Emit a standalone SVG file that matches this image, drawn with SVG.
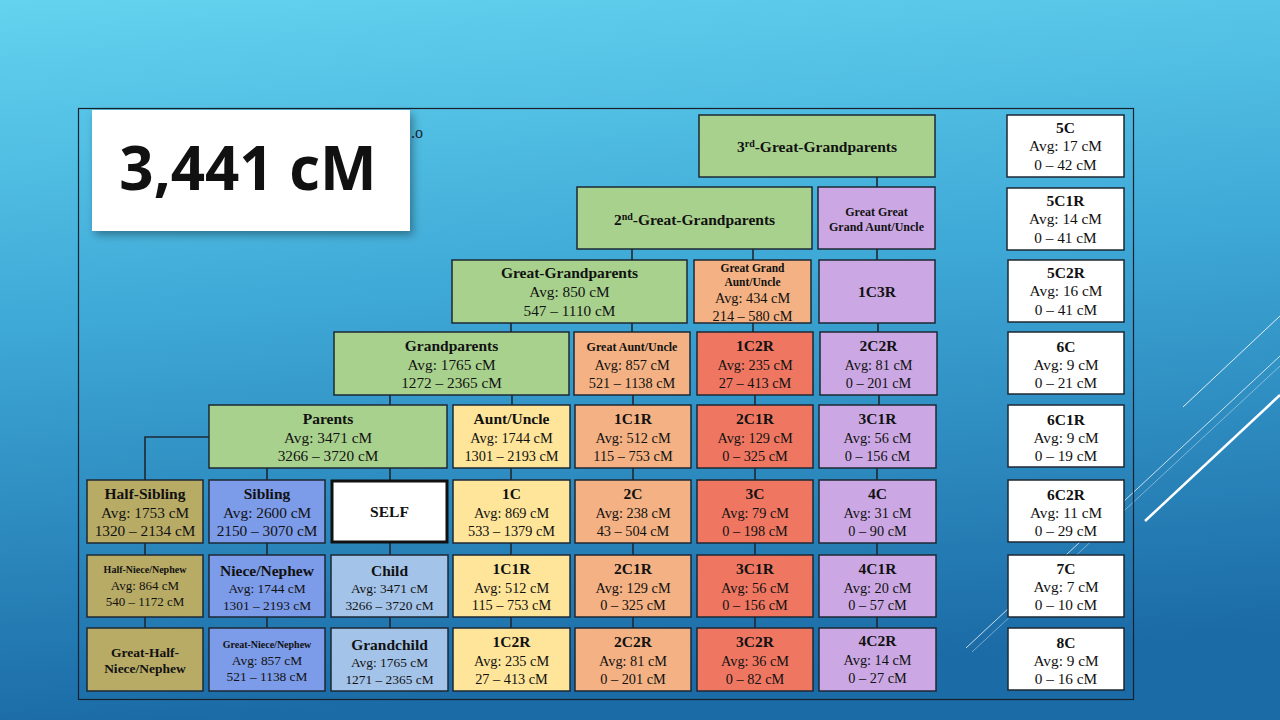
<svg xmlns="http://www.w3.org/2000/svg" width="1280" height="720" viewBox="0 0 1280 720">
<defs>
<linearGradient id="bg" x1="0" y1="0" x2="0.15" y2="1">
<stop offset="0" stop-color="#63d3ef"/>
<stop offset="0.45" stop-color="#3ea8d6"/>
<stop offset="1" stop-color="#1b6ba6"/>
</linearGradient>
<filter id="sh" x="-10%" y="-10%" width="130%" height="140%">
<feDropShadow dx="3" dy="4" stdDeviation="4" flood-color="#000" flood-opacity="0.35"/>
</filter>
<style>
.bx{stroke:#1d2834;stroke-width:1.5}
.g{fill:#a9d18e}.p{fill:#f4b183}.r{fill:#ef7762}.v{fill:#cba8e3}.y{fill:#ffe599}.bl{fill:#7c9be8}.lb{fill:#a3c3e9}.o{fill:#b8ab66}.w{fill:#ffffff}
text{font-family:"Liberation Serif","Times New Roman",serif;text-anchor:middle;fill:#111}
.b{font-weight:bold;font-size:15.5px}
.n{font-size:15.3px}
.s{font-size:14.3px}
.xs{font-size:13.4px}
.cn line,.cn path{stroke:#1d2834;stroke-width:1.6;fill:none}
.deco line{stroke:#ffffff}
</style>
</defs>
<rect width="1280" height="720" fill="url(#bg)"/>
<g class="deco">
<line x1="966" y1="648" x2="1280" y2="356" stroke-width="1" stroke-opacity="0.75"/>
<line x1="972" y1="652" x2="1280" y2="366" stroke-width="0.8" stroke-opacity="0.5"/>
<line x1="1145" y1="521" x2="1280" y2="395" stroke-width="2.5"/>
<line x1="1183" y1="407" x2="1280" y2="316" stroke-width="1" stroke-opacity="0.85"/>
</g>
<rect x="78.5" y="108.5" width="1055" height="591" fill="none" stroke="#17202b" stroke-width="1.2"/>
<text x="411" y="138" style="font-size:16px;text-anchor:start;fill:#1a2530">.o</text>

<g class="cn" id="connectors">
<line x1="877" y1="177" x2="877" y2="188"/>
<line x1="632" y1="249" x2="632" y2="260"/>
<line x1="753" y1="249" x2="753" y2="260"/>
<line x1="877" y1="249" x2="877" y2="260"/>
<line x1="511" y1="323" x2="511" y2="332"/>
<line x1="632" y1="323" x2="632" y2="332"/>
<line x1="753" y1="323" x2="753" y2="332"/>
<line x1="878" y1="323" x2="878" y2="332"/>
<line x1="390" y1="395" x2="390" y2="405"/>
<line x1="512" y1="395" x2="512" y2="405"/>
<line x1="633" y1="395" x2="633" y2="405"/>
<line x1="755" y1="395" x2="755" y2="405"/>
<line x1="879" y1="395" x2="879" y2="405"/>
<line x1="267" y1="468" x2="267" y2="480"/>
<line x1="390" y1="468" x2="390" y2="480"/>
<line x1="511" y1="468" x2="511" y2="480"/>
<line x1="633" y1="468" x2="633" y2="480"/>
<line x1="755" y1="468" x2="755" y2="480"/>
<line x1="877" y1="468" x2="877" y2="480"/>
<path d="M209 437 H145 V480"/>
<line x1="145" y1="543" x2="145" y2="555"/>
<line x1="267" y1="543" x2="267" y2="555"/>
<line x1="390" y1="543" x2="390" y2="555"/>
<line x1="511" y1="543" x2="511" y2="555"/>
<line x1="633" y1="543" x2="633" y2="555"/>
<line x1="755" y1="543" x2="755" y2="555"/>
<line x1="877" y1="543" x2="877" y2="555"/>
<line x1="145" y1="617" x2="145" y2="628"/>
<line x1="267" y1="617" x2="267" y2="628"/>
<line x1="390" y1="617" x2="390" y2="628"/>
<line x1="511" y1="617" x2="511" y2="628"/>
<line x1="633" y1="617" x2="633" y2="628"/>
<line x1="755" y1="617" x2="755" y2="628"/>
<line x1="877" y1="617" x2="877" y2="628"/>
</g>

<g id="gg3"><rect class="bx g" x="699" y="115" width="236" height="62"/><text class="b" x="817" y="152">3<tspan style="font-size:10px" dy="-5">rd</tspan><tspan dy="5">-Great-Grandparents</tspan></text></g>

<g id="gg2"><rect class="bx g" x="577" y="187" width="235" height="62"/><text class="b" x="694.5" y="225">2<tspan style="font-size:10px" dy="-5">nd</tspan><tspan dy="5">-Great-Grandparents</tspan></text></g>
<g id="ggga"><rect class="bx v" x="818" y="187" width="117" height="62"/><text style="font-weight:bold;font-size:12px" x="876.5" y="216">Great Great</text><text style="font-weight:bold;font-size:12px" x="876.5" y="231">Grand Aunt/Uncle</text></g>

<g id="gg"><rect class="bx g" x="452" y="260" width="235" height="63"/><text class="b" x="569.5" y="278">Great-Grandparents</text><text class="n" x="569.5" y="297">Avg: 850 cM</text><text class="n" x="569.5" y="316">547 – 1110 cM</text></g>
<g id="gga"><rect class="bx p" x="694" y="260" width="117" height="63"/><text style="font-weight:bold;font-size:11.5px" x="752.5" y="272">Great Grand</text><text style="font-weight:bold;font-size:11.5px" x="752.5" y="286">Aunt/Uncle</text><text class="s" x="752.5" y="303">Avg: 434 cM</text><text class="s" x="752.5" y="321">214 – 580 cM</text></g>
<g id="c1r3"><rect class="bx v" x="819" y="260" width="116" height="63"/><text class="b" x="877" y="297">1C3R</text></g>

<g id="gp"><rect class="bx g" x="334" y="332" width="235" height="63"/><text class="b" x="451.5" y="351">Grandparents</text><text class="n" x="451.5" y="370">Avg: 1765 cM</text><text class="n" x="451.5" y="388">1272 – 2365 cM</text></g>
<g id="ga"><rect class="bx p" x="574" y="332" width="116" height="63"/><text style="font-weight:bold;font-size:12px" x="632" y="351">Great Aunt/Uncle</text><text class="s" x="632" y="370">Avg: 857 cM</text><text class="s" x="632" y="388">521 – 1138 cM</text></g>
<g id="c1r2a"><rect class="bx r" x="697" y="332" width="116" height="63"/><text class="b" x="755" y="351">1C2R</text><text class="s" x="755" y="370">Avg: 235 cM</text><text class="s" x="755" y="388">27 – 413 cM</text></g>
<g id="c2r2a"><rect class="bx v" x="820" y="332" width="117" height="63"/><text class="b" x="878.5" y="351">2C2R</text><text class="s" x="878.5" y="370">Avg: 81 cM</text><text class="s" x="878.5" y="388">0 – 201 cM</text></g>

<g id="par"><rect class="bx g" x="209" y="405" width="238" height="63"/><text class="b" x="328" y="424">Parents</text><text class="n" x="328" y="443">Avg: 3471 cM</text><text class="n" x="328" y="461">3266 – 3720 cM</text></g>
<g id="au"><rect class="bx y" x="453" y="405" width="117" height="63"/><text class="b" x="511.5" y="424">Aunt/Uncle</text><text class="s" x="511.5" y="443">Avg: 1744 cM</text><text class="s" x="511.5" y="461">1301 – 2193 cM</text></g>
<g id="c1r1a"><rect class="bx p" x="575" y="405" width="116" height="63"/><text class="b" x="633" y="424">1C1R</text><text class="s" x="633" y="443">Avg: 512 cM</text><text class="s" x="633" y="461">115 – 753 cM</text></g>
<g id="c2r1a"><rect class="bx r" x="697" y="405" width="116" height="63"/><text class="b" x="755" y="424">2C1R</text><text class="s" x="755" y="443">Avg: 129 cM</text><text class="s" x="755" y="461">0 – 325 cM</text></g>
<g id="c3r1a"><rect class="bx v" x="819" y="405" width="117" height="63"/><text class="b" x="877.5" y="424">3C1R</text><text class="s" x="877.5" y="443">Avg: 56 cM</text><text class="s" x="877.5" y="461">0 – 156 cM</text></g>

<g id="hs"><rect class="bx o" x="87" y="480" width="116" height="63"/><text class="b" x="145" y="499">Half-Sibling</text><text class="n" x="145" y="518">Avg: 1753 cM</text><text class="n" x="145" y="536">1320 – 2134 cM</text></g>
<g id="sib"><rect class="bx bl" x="209" y="480" width="116" height="63"/><text class="b" x="267" y="499">Sibling</text><text class="n" x="267" y="518">Avg: 2600 cM</text><text class="n" x="267" y="536">2150 – 3070 cM</text></g>
<g id="self"><rect x="332" y="481" width="115" height="61" fill="#fff" stroke="#111" stroke-width="3"/><text class="b" x="389.5" y="517">SELF</text></g>
<g id="c1"><rect class="bx y" x="453" y="480" width="117" height="63"/><text class="b" x="511.5" y="499">1C</text><text class="s" x="511.5" y="518">Avg: 869 cM</text><text class="s" x="511.5" y="536">533 – 1379 cM</text></g>
<g id="c2"><rect class="bx p" x="575" y="480" width="116" height="63"/><text class="b" x="633" y="499">2C</text><text class="s" x="633" y="518">Avg: 238 cM</text><text class="s" x="633" y="536">43 – 504 cM</text></g>
<g id="c3"><rect class="bx r" x="697" y="480" width="116" height="63"/><text class="b" x="755" y="499">3C</text><text class="s" x="755" y="518">Avg: 79 cM</text><text class="s" x="755" y="536">0 – 198 cM</text></g>
<g id="c4"><rect class="bx v" x="819" y="480" width="117" height="63"/><text class="b" x="877.5" y="499">4C</text><text class="s" x="877.5" y="518">Avg: 31 cM</text><text class="s" x="877.5" y="536">0 – 90 cM</text></g>

<g id="hn"><rect class="bx o" x="87" y="555" width="116" height="62"/><text style="font-weight:bold;font-size:10px" x="145" y="573">Half-Niece/Nephew</text><text style="font-size:13px" x="145" y="590">Avg: 864 cM</text><text style="font-size:13px" x="145" y="606">540 – 1172 cM</text></g>
<g id="nn"><rect class="bx bl" x="209" y="555" width="116" height="62"/><text class="b" x="267" y="576">Niece/Nephew</text><text class="xs" x="267" y="593">Avg: 1744 cM</text><text class="xs" x="267" y="610">1301 – 2193 cM</text></g>
<g id="ch"><rect class="bx lb" x="331" y="555" width="117" height="62"/><text class="b" x="389.5" y="576">Child</text><text class="xs" x="389.5" y="593">Avg: 3471 cM</text><text class="xs" x="389.5" y="610">3266 – 3720 cM</text></g>
<g id="c1r1b"><rect class="bx y" x="453" y="555" width="117" height="62"/><text class="b" x="511.5" y="574">1C1R</text><text class="s" x="511.5" y="593">Avg: 512 cM</text><text class="s" x="511.5" y="610">115 – 753 cM</text></g>
<g id="c2r1b"><rect class="bx p" x="575" y="555" width="116" height="62"/><text class="b" x="633" y="574">2C1R</text><text class="s" x="633" y="593">Avg: 129 cM</text><text class="s" x="633" y="610">0 – 325 cM</text></g>
<g id="c3r1b"><rect class="bx r" x="697" y="555" width="116" height="62"/><text class="b" x="755" y="574">3C1R</text><text class="s" x="755" y="593">Avg: 56 cM</text><text class="s" x="755" y="610">0 – 156 cM</text></g>
<g id="c4r1"><rect class="bx v" x="819" y="555" width="117" height="62"/><text class="b" x="877.5" y="574">4C1R</text><text class="s" x="877.5" y="593">Avg: 20 cM</text><text class="s" x="877.5" y="610">0 – 57 cM</text></g>

<g id="ghn"><rect class="bx o" x="87" y="628" width="116" height="63"/><text style="font-weight:bold;font-size:13.5px" x="145" y="657">Great-Half-</text><text style="font-weight:bold;font-size:13.5px" x="145" y="673">Niece/Nephew</text></g>
<g id="gn"><rect class="bx bl" x="209" y="628" width="116" height="63"/><text style="font-weight:bold;font-size:10px" x="267" y="648">Great-Niece/Nephew</text><text class="xs" x="267" y="665">Avg: 857 cM</text><text class="xs" x="267" y="681">521 – 1138 cM</text></g>
<g id="gc"><rect class="bx lb" x="331" y="628" width="117" height="63"/><text class="b" x="389.5" y="650">Grandchild</text><text class="xs" x="389.5" y="667">Avg: 1765 cM</text><text class="xs" x="389.5" y="684">1271 – 2365 cM</text></g>
<g id="c1r2b"><rect class="bx y" x="453" y="628" width="117" height="63"/><text class="b" x="511.5" y="647">1C2R</text><text class="s" x="511.5" y="666">Avg: 235 cM</text><text class="s" x="511.5" y="684">27 – 413 cM</text></g>
<g id="c2r2b"><rect class="bx p" x="575" y="628" width="116" height="63"/><text class="b" x="633" y="647">2C2R</text><text class="s" x="633" y="666">Avg: 81 cM</text><text class="s" x="633" y="684">0 – 201 cM</text></g>
<g id="c3r2"><rect class="bx r" x="697" y="628" width="116" height="63"/><text class="b" x="755" y="647">3C2R</text><text class="s" x="755" y="666">Avg: 36 cM</text><text class="s" x="755" y="684">0 – 82 cM</text></g>
<g id="c4r2"><rect class="bx v" x="819" y="628" width="117" height="63"/><text class="b" x="877.5" y="646">4C2R</text><text class="s" x="877.5" y="665">Avg: 14 cM</text><text class="s" x="877.5" y="683">0 – 27 cM</text></g>

<g id="c5"><rect class="bx w" x="1007" y="115" width="117" height="62"/><text class="b" x="1065.5" y="133">5C</text><text class="n" x="1065.5" y="151">Avg: 17 cM</text><text class="n" x="1065.5" y="170">0 – 42 cM</text></g>
<g id="c5r1"><rect class="bx w" x="1007" y="188" width="117" height="62"/><text class="b" x="1065.5" y="206">5C1R</text><text class="n" x="1065.5" y="224">Avg: 14 cM</text><text class="n" x="1065.5" y="243">0 – 41 cM</text></g>
<g id="c5r2"><rect class="bx w" x="1008" y="260" width="116" height="62"/><text class="b" x="1066" y="278">5C2R</text><text class="n" x="1066" y="296">Avg: 16 cM</text><text class="n" x="1066" y="315">0 – 41 cM</text></g>
<g id="c6"><rect class="bx w" x="1008" y="332" width="116" height="62"/><text class="b" x="1066" y="352">6C</text><text class="n" x="1066" y="370">Avg: 9 cM</text><text class="n" x="1066" y="388">0 – 21 cM</text></g>
<g id="c6r1"><rect class="bx w" x="1008" y="405" width="116" height="62"/><text class="b" x="1066" y="425">6C1R</text><text class="n" x="1066" y="443">Avg: 9 cM</text><text class="n" x="1066" y="461">0 – 19 cM</text></g>
<g id="c6r2"><rect class="bx w" x="1008" y="480" width="116" height="62"/><text class="b" x="1066" y="500">6C2R</text><text class="n" x="1066" y="518">Avg: 11 cM</text><text class="n" x="1066" y="536">0 – 29 cM</text></g>
<g id="c7"><rect class="bx w" x="1008" y="555" width="116" height="62"/><text class="b" x="1066" y="574">7C</text><text class="n" x="1066" y="592">Avg: 7 cM</text><text class="n" x="1066" y="610">0 – 10 cM</text></g>
<g id="c8"><rect class="bx w" x="1008" y="628" width="116" height="62"/><text class="b" x="1066" y="648">8C</text><text class="n" x="1066" y="666">Avg: 9 cM</text><text class="n" x="1066" y="684">0 – 16 cM</text></g>

<g id="total"><rect x="92" y="110" width="318" height="121" fill="#fff" filter="url(#sh)"/><text x="248" y="190" style="font-family:'Open Sans','Noto Sans','Liberation Sans',sans-serif;font-weight:bold;font-size:60px;fill:#111">3,441 cM</text></g>
</svg>
